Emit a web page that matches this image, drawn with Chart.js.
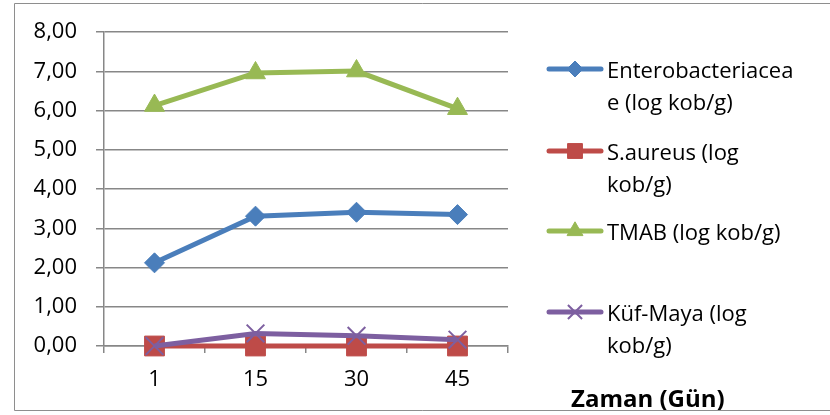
<!DOCTYPE html>
<html>
<head>
<meta charset="utf-8">
<script src="https://cdn.jsdelivr.net/npm/chart.js@4"></script>
<style>
  html, body { margin: 0; padding: 0; background: #ffffff; }
  #wrap { width: 830px; height: 415px; }
</style>
</head>
<body>
<div id="wrap"><canvas id="c" width="830" height="415"></canvas></div>
<script>
// Sampling days
const days = ['1', '15', '30', '45'];

// Counts per group, log kob/g
const enterobacteriaceae = [2.12, 3.31, 3.41, 3.35];
const sAureus = [0, 0, 0, 0];
const tmab = [6.13, 6.96, 7.01, 6.05];
const kufMaya = [0, 0.32, 0.26, 0.16];

// Legend text, wrapped as shown
const seriesNames = [
  ['Enterobacteriacea', 'e (log kob/g)'],
  ['S.aureus (log', 'kob/g)'],
  ['TMAB (log kob/g)'],
  ['Küf-Maya (log', 'kob/g)']
];
const axisTitle = 'Zaman (Gün)';

const FONT = '"Open Sans", "Noto Sans", sans-serif';
const GRID = '#878787';

const datasets = [
  { label: seriesNames[0].join(''), data: enterobacteriaceae, color: '#4A7EBB', style: 'rectRot', radius: 10, order: 4 },
  { label: seriesNames[1].join(' '), data: sAureus, color: '#BE4B48', style: 'rect', radius: 14, order: 3 },
  { label: seriesNames[2].join(' '), data: tmab, color: '#98B954', style: 'triangle', radius: 11.5, order: 2 },
  { label: seriesNames[3].join(' '), data: kufMaya, color: '#7D5FA0', style: 'crossRot', radius: 12.5, order: 1 }
].map(d => ({
  label: d.label,
  data: d.data,
  order: d.order,
  borderColor: d.color,
  backgroundColor: d.color,
  borderWidth: 5,
  pointStyle: d.style,
  pointRadius: d.radius,
  pointHoverRadius: d.radius,
  pointBorderWidth: d.style === 'crossRot' ? 2 : 1,
  pointBorderColor: d.color,
  pointBackgroundColor: d.color,
  tension: 0,
  clip: false
}));

// Frame, side legend and the time caption
const decor = {
  id: 'decor',
  afterDraw(chart) {
    const ctx = chart.ctx;
    ctx.save();
    // legend
    const rows = [69, 151, 231, 312];
    const lineH = 32;
    chart.data.datasets.forEach((ds, i) => {
      const y = rows[i];
      ctx.strokeStyle = ds.borderColor;
      ctx.lineWidth = 5;
      ctx.lineCap = 'round';
      ctx.beginPath();
      ctx.moveTo(549, y);
      ctx.lineTo(601, y);
      ctx.stroke();
      ctx.lineCap = 'butt';
      const r = ds.pointStyle === 'rect' ? ds.pointRadius * 0.75 : ds.pointRadius * 0.8;
      ctx.fillStyle = ds.borderColor;
      ctx.strokeStyle = ds.borderColor;
      ctx.lineWidth = ds.pointBorderWidth;
      Chart.helpers.drawPoint(ctx, { pointStyle: ds.pointStyle, rotation: 0, radius: r, borderWidth: ds.pointBorderWidth }, 575, y);
      ctx.fillStyle = '#000000';
      ctx.font = '22px ' + FONT;
      ctx.textAlign = 'left';
      ctx.textBaseline = 'middle';
      seriesNames[i].forEach((t, k) => ctx.fillText(t, 607, y + 3 + k * lineH));
    });
    // caption under the axis, on the right
    ctx.font = 'bold 24px ' + FONT;
    ctx.textAlign = 'left';
    ctx.textBaseline = 'alphabetic';
    ctx.fillText(axisTitle, 571, 407);
    // outer frame
    ctx.strokeStyle = '#8E8E8E';
    ctx.lineWidth = 1;
    ctx.beginPath();
    ctx.moveTo(835, 3.5);
    ctx.lineTo(14.5, 3.5);
    ctx.lineTo(14.5, 410.5);
    ctx.lineTo(835, 410.5);
    ctx.stroke();
    ctx.restore();
  }
};

new Chart(document.getElementById('c'), {
  type: 'line',
  data: { labels: days, datasets },
  options: {
    responsive: false,
    animation: false,
    devicePixelRatio: 1,
    layout: { padding: { left: 14, top: 32, right: 322, bottom: 0 } },
    plugins: {
      legend: { display: false },
      tooltip: { enabled: false }
    },
    scales: {
      x: {
        type: 'category',
        offset: true,
        afterFit(s) { s.height = 69; },
        grid: {
          offset: true,
          drawOnChartArea: false,
          drawTicks: true,
          tickLength: 7,
          color: GRID,
          lineWidth: 1.5
        },
        border: { display: true, color: GRID, width: 1.5 },
        ticks: {
          color: '#000000',
          font: { family: FONT, size: 22 },
          padding: 14,
          maxRotation: 0
        }
      },
      y: {
        min: 0,
        max: 8,
        afterFit(s) { s.width = 90; },
        grid: {
          drawOnChartArea: true,
          drawTicks: true,
          tickLength: 8,
          color: GRID,
          lineWidth: 1.5
        },
        border: { display: true, color: GRID, width: 1.5 },
        ticks: {
          stepSize: 1,
          color: '#000000',
          font: { family: FONT, size: 22 },
          padding: 19,
          callback: v => Number(v).toFixed(2).replace('.', ',')
        }
      }
    }
  },
  plugins: [decor]
});
</script>
</body>
</html>
